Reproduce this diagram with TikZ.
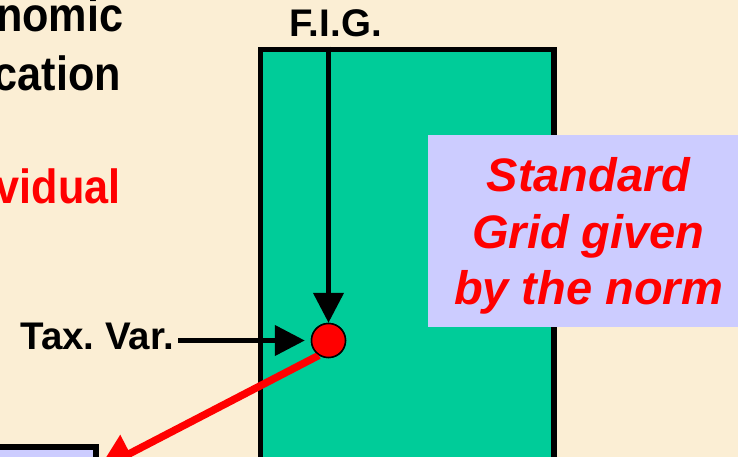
\documentclass[tikz,border=0pt]{standalone}
\usepackage{fontspec}
\setmainfont{Liberation Sans}
\newfontfamily\sidefont[FakeStretch=0.9]{Liberation Sans}
\usepackage{xcolor}
\usetikzlibrary{arrows.meta, positioning}

\definecolor{paper}{RGB}{251,238,212}
\definecolor{figgreen}{RGB}{0,204,153}
\definecolor{normlav}{RGB}{204,204,255}

\begin{document}
\begin{tikzpicture}[
  x=1pt, y=-1pt,
  sidetext/.style={
    font=\sidefont\fontsize{48}{56}\selectfont\bfseries,
    inner sep=0pt
  },
  labeltext/.style={
    font=\fontsize{38.5}{45}\selectfont\bfseries,
    inner sep=0pt
  },
  figbox/.style={
    draw=black,
    fill=figgreen,
    line width=5.5pt,
    minimum width=293.5pt,
    minimum height=440.5pt,
    inner sep=0pt
  },
  normbox/.style={
    fill=normlav,
    minimum width=332pt,
    minimum height=192pt,
    inner sep=0pt
  },
  normtext/.style={
    text=red,
    font=\fontsize{47}{56.5}\selectfont\bfseries\itshape,
    align=center,
    inner sep=0pt
  },
  outbox/.style={
    draw=black,
    fill=normlav,
    line width=5.5pt,
    minimum width=126pt,
    minimum height=43pt,
    inner sep=0pt
  },
  dotnode/.style={
    circle,
    draw=black,
    fill=red,
    line width=1.5pt,
    minimum size=34pt,
    inner sep=0pt
  },
  blackarrow/.style={
    draw=black,
    line width=4.5pt,
    -{Triangle[length=30pt, width=30pt]}
  },
  redarrow/.style={
    draw=red,
    line width=7.5pt,
    -{Triangle[length=36pt, width=40pt]}
  }
]

% Background
\fill[paper] (0,0) rectangle (738,457);
\useasboundingbox (0,0) rectangle (738,457);
\clip (0,0) rectangle (738,457);

% Left side text
\node[sidetext, anchor=base east] (econ) at (123.5,32) {nomic};
\node[sidetext, anchor=base east] (classif) at (121,91) {cation};
\node[sidetext, anchor=base east, text=red] (indiv) at (121,203) {vidual};

% Green grid box
\node[figbox] (fig) at (407.25,269.75) {};
\node[labeltext, anchor=base west] (figlabel) at (289.5,37) {F.I.G.};

% Red point
\node[dotnode] (dot) at (328.5,340.5) {};
\coordinate (redtip) at (98,470);

% Tax. Var. label
\node[labeltext, anchor=base east] (taxvar) at (174,349) {Tax.\ Var.};

% Arrows
\draw[blackarrow] (dot |- fig.north) -- (dot.north);
\draw[blackarrow, shorten >=6pt] ([xshift=4pt]taxvar.east |- dot.west) -- (dot.west);
\draw[redarrow] (dot.237) -- (redtip);
\node[dotnode] at (dot) {};

% Standard grid box
\node[normbox] (norm) at (594,231) {};
\node[normtext] (normtxt) at (588.5,236)
{Standard\\
Grid given\\
by the norm};

% Bottom left box
\node[outbox] (out) at (33,468.5) {};

\end{tikzpicture}
\end{document}
